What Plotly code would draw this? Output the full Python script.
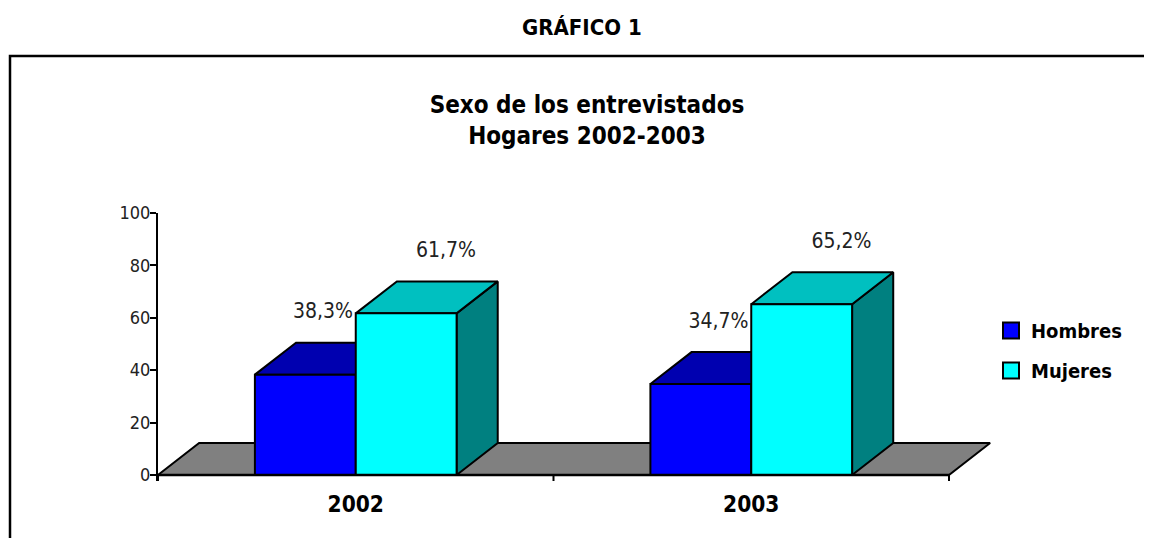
import plotly.graph_objects as go

# ---------------- data ----------------
categories = ["2002", "2003"]
series_names = ["Hombres", "Mujeres"]
hombres = [38.3, 34.7]
mujeres = [61.7, 65.2]
hombres_labels = ["38,3%", "34,7%"]
mujeres_labels = ["61,7%", "65,2%"]
y_ticks = [0, 20, 40, 60, 80, 100]

# ---------------- style ----------------
OFF = 8                       # page body margin
W, H = 1152 - OFF, 538 - OFF
ML, MT = 158 - OFF, 213 - OFF
MB = 57
PW = 838
MR = W - ML - PW
PH = H - MT - MB
X_RANGE = [-0.5, -0.5 + PW / 395.5]
Y_RANGE = [-2.3, 100]
BAR_W = 0.255
DX, DY = 0.104, 12.2          # 3-D depth offset in axis units
FONT = "Liberation Sans Narrow, Arial Narrow, DejaVu Sans Condensed, sans-serif"

styles = {
    "Hombres": dict(front="#0000FF", top="#0000B0", side="#000080", lab_dx=-0.083),
    "Mujeres": dict(front="#00FFFF", top="#00C0C0", side="#008080", lab_dx=0.228),
}
FLOOR = "#808080"
LABEL_DY = 23.5


def pxx(px):  # page pixel -> paper x
    return (px - OFF - ML) / PW


def pxy(py):  # page pixel -> paper y
    return (H - MB - (py - OFF)) / PH


def poly(xs, ys, color, lw=2):
    return go.Scatter(x=xs + [xs[0]], y=ys + [ys[0]], mode="lines", fill="toself",
                      fillcolor=color, line=dict(color="black", width=lw),
                      hoverinfo="skip", showlegend=False)


fig = go.Figure()

# floor
n = len(categories)
fx0, fx1 = -0.5, n - 0.5
fig.add_trace(poly([fx0, fx1, fx1 + DX, fx0 + DX], [0, 0, DY, DY], FLOOR))

# bars
values = {"Hombres": hombres, "Mujeres": mujeres}
for i, cat in enumerate(categories):
    for k, name in enumerate(series_names):
        v = values[name][i]
        st = styles[name]
        x0 = i - BAR_W + k * BAR_W
        x1 = x0 + BAR_W
        fig.add_trace(poly([x1, x1 + DX, x1 + DX, x1], [0, DY, v + DY, v], st["side"]))
        fig.add_trace(poly([x0, x0 + DX, x1 + DX, x1], [v, v + DY, v + DY, v], st["top"]))
        fig.add_trace(poly([x0, x1, x1, x0], [0, 0, v, v], st["front"]))

# category axis line and boundary ticks
bounds = [i - 0.5 for i in range(n + 1)]
tx, ty = [], []
for b in bounds:
    tx += [b, b, None]
    ty += [0, Y_RANGE[0], None]
fig.add_trace(go.Scatter(x=[fx0, fx1], y=[0, 0], mode="lines",
                         line=dict(color="black", width=2.5), hoverinfo="skip", showlegend=False))
fig.add_trace(go.Scatter(x=tx, y=ty, mode="lines",
                         line=dict(color="black", width=2), hoverinfo="skip", showlegend=False))

# value labels
labels = {"Hombres": hombres_labels, "Mujeres": mujeres_labels}
for name in series_names:
    fig.add_trace(go.Scatter(
        x=[i + styles[name]["lab_dx"] for i in range(n)],
        y=[v + LABEL_DY for v in values[name]],
        text=labels[name], mode="text", textposition="middle center",
        textfont=dict(family=FONT, size=21, color="#222222"),
        hoverinfo="skip", showlegend=False, cliponaxis=False))

# legend entries
for gi, name in enumerate(series_names):
    fig.add_trace(go.Scatter(
        x=[None], y=[None], mode="markers", name=name, legendgroup=f"g{gi}",
        marker=dict(symbol="square", size=16, color=styles[name]["front"],
                    line=dict(color="black", width=2))))

fig.update_layout(
    width=W, height=H,
    margin=dict(l=ML, r=MR, t=MT, b=MB, pad=0),
    paper_bgcolor="white", plot_bgcolor="white",
    font=dict(family=FONT, color="black"),
    title=dict(text="<b>Sexo de los entrevistados<br>Hogares 2002-2003</b>",
               x=(587 - OFF) / W, xanchor="center", xref="container",
               y=1 - (113 - OFF) / H, yanchor="top", yref="container",
               font=dict(family=FONT, size=24, color="black")),
    xaxis=dict(range=X_RANGE, showgrid=False, zeroline=False, showline=False,
               tickmode="array", tickvals=list(range(n)), ticktext=categories,
               ticks="", ticklabelstandoff=7,
               tickfont=dict(family=FONT, size=22.5, color="black", weight="bold")),
    yaxis=dict(range=Y_RANGE, showgrid=False, zeroline=False, showline=True,
               linecolor="black", linewidth=2, ticks="outside", ticklen=6,
               tickwidth=2, tickcolor="black", tickmode="array", tickvals=y_ticks,
               ticklabelstandoff=-4,
               tickfont=dict(family=FONT, size=18, color="#222222")),
    legend=dict(x=pxx(991), y=pxy(311), xanchor="left", yanchor="top",
                traceorder="grouped", tracegroupgap=11, bgcolor="rgba(0,0,0,0)",
                font=dict(family=FONT, size=20, color="black", weight="bold"),
                itemsizing="trace"),
    showlegend=True,
    annotations=[dict(text="<b>GRÁFICO 1</b>", xref="paper", yref="paper",
                      x=pxx(582), y=pxy(27), xanchor="center", yanchor="middle",
                      showarrow=False, font=dict(family=FONT, size=22, color="black"))],
    shapes=[dict(type="rect", xref="paper", yref="paper",
                 x0=pxx(10), x1=pxx(1300), y0=pxy(700), y1=pxy(56),
                 line=dict(color="black", width=2.5), fillcolor="rgba(0,0,0,0)")],
)

fig.write_html("out.html")
